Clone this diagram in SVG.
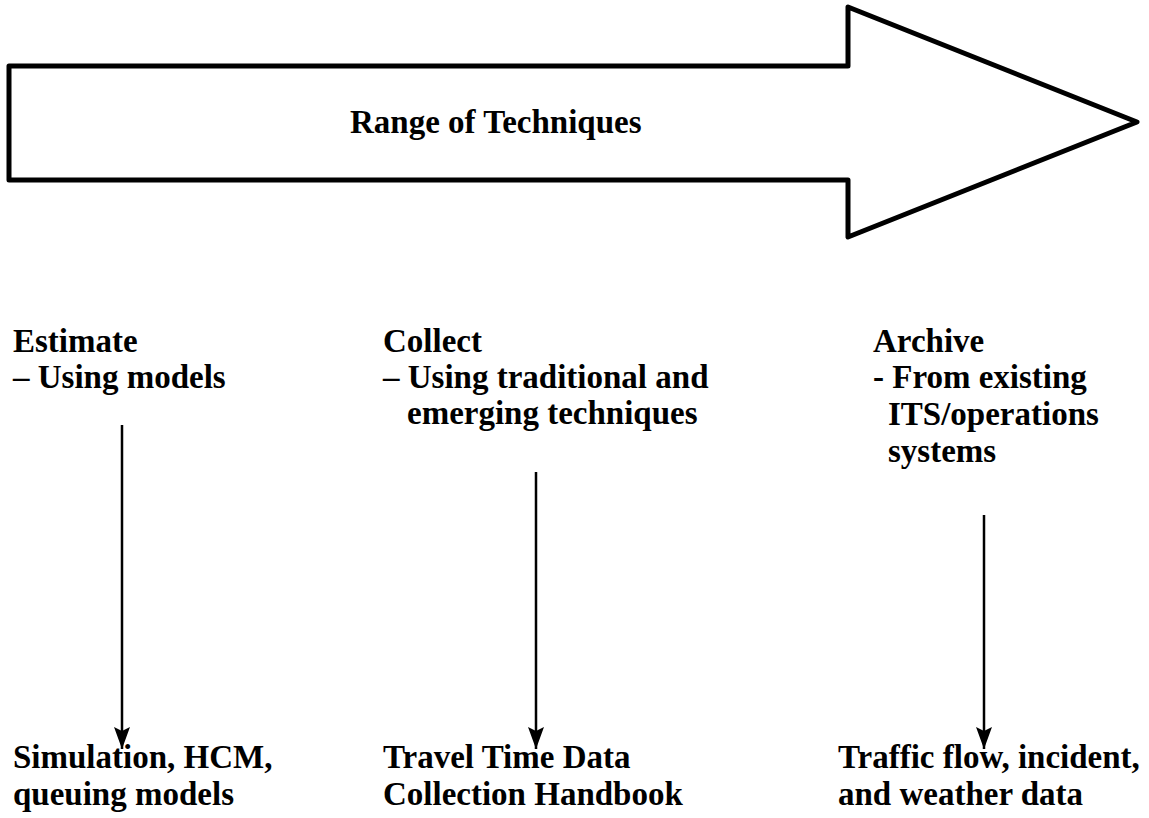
<svg xmlns="http://www.w3.org/2000/svg" width="1149" height="818" viewBox="0 0 1149 818">
<defs>
<style>
.t{font-family:"Liberation Serif","Times New Roman",serif;font-weight:bold;font-size:33px;fill:#000}
.big{fill:#fff;stroke:#000;stroke-width:5;stroke-linejoin:round}
.ln{stroke:#000;stroke-width:2.5;fill:none}
</style>
<marker id="ah" markerWidth="24" markerHeight="18" refX="22" refY="8" orient="auto" markerUnits="userSpaceOnUse" viewBox="0 0 24 16">
<path d="M0,0 L4,8 L0,16 L22,8 Z" fill="#000"/>
</marker>
</defs>
<g id="range-arrow">
<path class="big" d="M9,66 L848,66 L848,7 L1137,122 L848,237 L848,180 L9,180 Z"/>
<text class="t" x="350" y="133">Range of Techniques</text>
</g>
<g id="estimate">
<text class="t" x="13" y="352">Estimate</text>
<text class="t" x="13" y="388">– Using models</text>
</g>
<g id="collect">
<text class="t" x="383" y="352">Collect</text>
<text class="t" x="383" y="388">– Using traditional and</text>
<text class="t" x="407" y="424">emerging techniques</text>
</g>
<g id="archive">
<text class="t" x="873" y="352">Archive</text>
<text class="t" x="873" y="388">- From existing</text>
<text class="t" x="888" y="425">ITS/operations</text>
<text class="t" x="888" y="462">systems</text>
</g>
<g id="simulation">
<text class="t" x="13" y="768">Simulation, HCM,</text>
<text class="t" x="13" y="805">queuing models</text>
</g>
<g id="handbook">
<text class="t" x="383" y="768">Travel Time Data</text>
<text class="t" x="383" y="805">Collection Handbook</text>
</g>
<g id="traffic">
<text class="t" x="838" y="768">Traffic flow, incident,</text>
<text class="t" x="838" y="805">and weather data</text>
</g>
<g id="connectors">
<line class="ln" x1="122" y1="425" x2="122" y2="749" marker-end="url(#ah)"/>
<line class="ln" x1="536" y1="472" x2="536" y2="749" marker-end="url(#ah)"/>
<line class="ln" x1="984" y1="515" x2="984" y2="749" marker-end="url(#ah)"/>
</g>
</svg>
